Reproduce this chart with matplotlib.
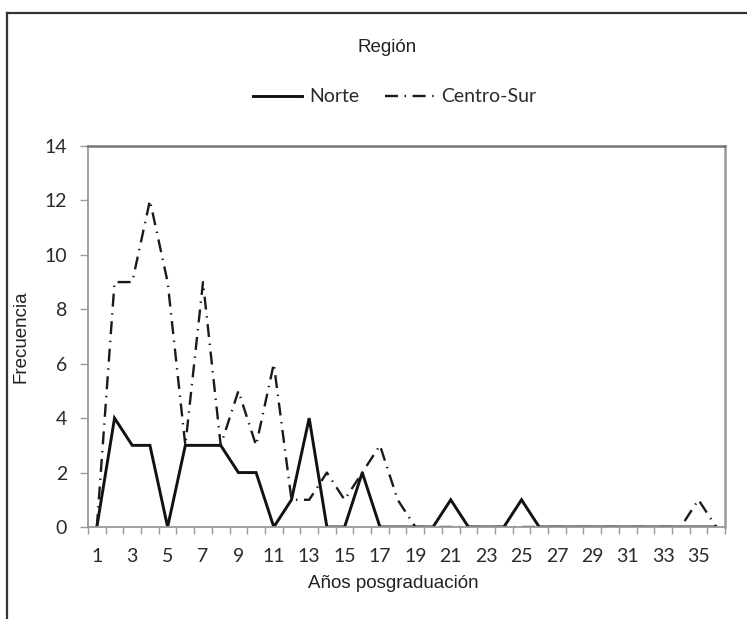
import matplotlib
matplotlib.use("Agg")
import matplotlib.pyplot as plt
from matplotlib.lines import Line2D

years = list(range(1, 37))
norte = [0, 4, 3, 3, 0, 3, 3, 3, 2, 2, 0, 1, 4, 0, 0, 2, 0, 0, 0, 0,
         1, 0, 0, 0, 1, 0, 0, 0, 0, 0, 0, 0, 0, 0, 0, 0]
centro_sur = [0, 9, 9, 12, 9, 3, 9, 3, 5, 3, 6, 1, 1, 2, 1, 2, 3, 1, 0, 0,
              0, 0, 0, 0, 0, 0, 0, 0, 0, 0, 0, 0, 0, 0, 1, 0]
xtick_labels = [str(v) for v in range(1, 36, 2)]
ytick_vals = list(range(0, 15, 2))

W, H = 747, 619
fig = plt.figure(figsize=(W / 100, H / 100), dpi=100)
ax = fig.add_axes([88 / W, 1 - 527 / H, (725 - 88) / W, (527 - 146) / H])

cond = ['Lato', 'DejaVu Sans']
arial = ['Liberation Sans', 'DejaVu Sans']

ax.plot(years, norte, color='#111111', lw=2.1, solid_joinstyle='miter', label='Norte')
ax.plot(years, centro_sur, color='#1a1a1a', lw=1.7,
        linestyle=(0, (5.5, 2.8, 0.6, 2.8)), label='Centro-Sur')

ax.set_xlim(0.5, 36.5)
ax.set_ylim(0, 14)

ax.set_xticks(list(range(1, 36, 2)))
ax.set_xticklabels(xtick_labels, fontfamily=cond, fontsize=14, color='#2a2a2a')
ax.set_xticks([v + 0.5 for v in range(0, 37)], minor=True)
ax.tick_params(axis='x', which='major', length=0, pad=15)
ax.tick_params(axis='x', which='minor', length=5, width=1, color='#999999', direction='out')

ax.set_yticks(ytick_vals)
ax.set_yticklabels([str(v) for v in ytick_vals], fontfamily=cond, fontsize=14, color='#2a2a2a')
ax.tick_params(axis='y', length=6, width=1, color='#999999', pad=9)

for side in ['left', 'bottom']:
    ax.spines[side].set_color('#999999')
    ax.spines[side].set_linewidth(1.3)
ax.spines['top'].set_color('#777777')
ax.spines['top'].set_linewidth(1.8)
ax.spines['right'].set_color('#999999')
ax.spines['right'].set_linewidth(1.8)

fig.text(21 / W, 1 - 337 / H, 'Frecuencia', rotation=90, ha='center', va='center',
         fontfamily=arial, fontsize=13.5, color='#222222')
fig.text(393 / W, 1 - 583 / H, 'Años posgraduación', ha='center', va='center',
         fontfamily=arial, fontsize=13.5, color='#222222')
fig.text(387 / W, 1 - 48 / H, 'Región', ha='center', va='center',
         fontfamily=arial, fontsize=13.5, color='#222222')

leg = fig.legend(loc='center', bbox_to_anchor=(395 / W, 1 - 97 / H), ncol=2,
                 frameon=False, handlelength=2.5, handletextpad=0.4,
                 columnspacing=1.3, prop={'family': cond, 'size': 14})
for t in leg.get_texts():
    t.set_color('#2a2a2a')

# outer frame (top and left edges)
fig.add_artist(Line2D([7 / W, 1.0], [1 - 13 / H, 1 - 13 / H], transform=fig.transFigure,
                      color='#333333', lw=1.6))
fig.add_artist(Line2D([7 / W, 7 / W], [1 - 13 / H, 0.0], transform=fig.transFigure,
                      color='#333333', lw=1.6))

fig.savefig('out.png', dpi=100)
